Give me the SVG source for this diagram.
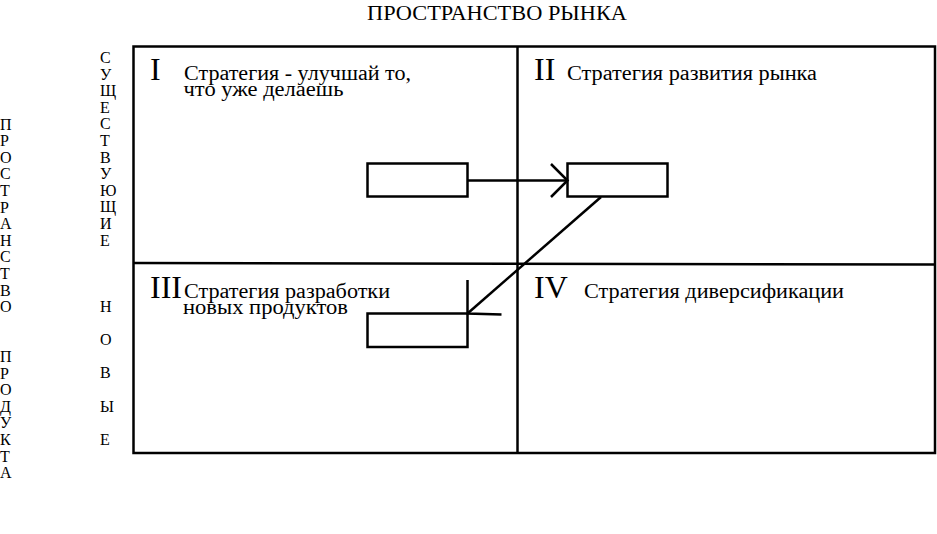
<svg xmlns="http://www.w3.org/2000/svg" width="937" height="534" viewBox="0 0 937 534">
<style>
text{font-family:"Liberation Serif","Times New Roman",serif;fill:#000}
.t{font-size:20px}
.n{font-size:32px}
.v{font-size:16px}
.ln{stroke:#000;stroke-width:2.5;fill:none}
</style>
<rect width="937" height="534" fill="#fff"/>
<text class="t" x="367" y="20" textLength="260" lengthAdjust="spacingAndGlyphs">ПРОСТРАНСТВО РЫНКА</text>
<g id="axis-left">
<text class="v" x="0" y="129.5">П</text>
<text class="v" x="0" y="146.1">Р</text>
<text class="v" x="0" y="162.7">О</text>
<text class="v" x="0" y="179.3">С</text>
<text class="v" x="0" y="195.9">Т</text>
<text class="v" x="0" y="212.5">Р</text>
<text class="v" x="0" y="229.1">А</text>
<text class="v" x="0" y="245.7">Н</text>
<text class="v" x="0" y="262.3">С</text>
<text class="v" x="0" y="278.9">Т</text>
<text class="v" x="0" y="295.5">В</text>
<text class="v" x="0" y="312.1">О</text>
<text class="v" x="0" y="361.9">П</text>
<text class="v" x="0" y="378.5">Р</text>
<text class="v" x="0" y="395.1">О</text>
<text class="v" x="0" y="411.7">Д</text>
<text class="v" x="0" y="428.3">У</text>
<text class="v" x="0" y="444.9">К</text>
<text class="v" x="0" y="461.5">Т</text>
<text class="v" x="0" y="478.1">А</text>
</g>
<g id="axis-right">
<text class="v" x="100" y="63">С</text>
<text class="v" x="100" y="79.6">У</text>
<text class="v" x="100" y="96.2">Щ</text>
<text class="v" x="100" y="112.8">Е</text>
<text class="v" x="100" y="129.4">С</text>
<text class="v" x="100" y="146">Т</text>
<text class="v" x="100" y="162.6">В</text>
<text class="v" x="100" y="179.2">У</text>
<text class="v" x="100" y="195.8">Ю</text>
<text class="v" x="100" y="212.4">Щ</text>
<text class="v" x="100" y="229">И</text>
<text class="v" x="100" y="245.6">Е</text>
<text class="v" x="100" y="312">Н</text>
<text class="v" x="100" y="345.2">О</text>
<text class="v" x="100" y="378.4">В</text>
<text class="v" x="100" y="411.6">Ы</text>
<text class="v" x="100" y="444.8">Е</text>
</g>
<g id="matrix">
<rect class="ln" x="133.5" y="46.5" width="801.5" height="406.5"/>
<line class="ln" x1="517.5" y1="46.5" x2="517.5" y2="453"/>
<line class="ln" x1="133.5" y1="263" x2="935" y2="264.5"/>
</g>
<g id="q1">
<text class="n" x="150" y="80">I</text>
<text class="t" x="184" y="80" textLength="227" lengthAdjust="spacingAndGlyphs">Стратегия - улучшай то,</text>
<text class="t" x="183.5" y="96" textLength="160" lengthAdjust="spacingAndGlyphs">что уже делаешь</text>
</g>
<g id="q2">
<text class="n" x="534" y="80">II</text>
<text class="t" x="567" y="80" textLength="250" lengthAdjust="spacingAndGlyphs">Стратегия развития рынка</text>
</g>
<g id="q3">
<text class="n" x="150" y="298">III</text>
<text class="t" x="184" y="298" textLength="206" lengthAdjust="spacingAndGlyphs">Стратегия разработки</text>
<text class="t" x="183" y="314" textLength="165" lengthAdjust="spacingAndGlyphs">новых продуктов</text>
</g>
<g id="q4">
<text class="n" x="534" y="298">IV</text>
<text class="t" x="584" y="298" textLength="260" lengthAdjust="spacingAndGlyphs">Стратегия диверсификации</text>
</g>
<g id="box1"><rect class="ln" x="367.5" y="163.5" width="100" height="33"/></g>
<g id="box2"><rect class="ln" x="567.5" y="163.5" width="100" height="33"/></g>
<g id="box3"><rect class="ln" x="367.5" y="313.5" width="100" height="33.5"/></g>
<g id="connectors">
<line class="ln" x1="467.5" y1="180.5" x2="567.5" y2="180.5"/>
<polyline class="ln" points="551,164 567.5,180.5 551,197"/>
<line class="ln" x1="601" y1="197" x2="467.5" y2="313.5"/>
<polyline class="ln" points="467.5,280 467.5,313.5 501.5,314.5"/>
</g>
</svg>
